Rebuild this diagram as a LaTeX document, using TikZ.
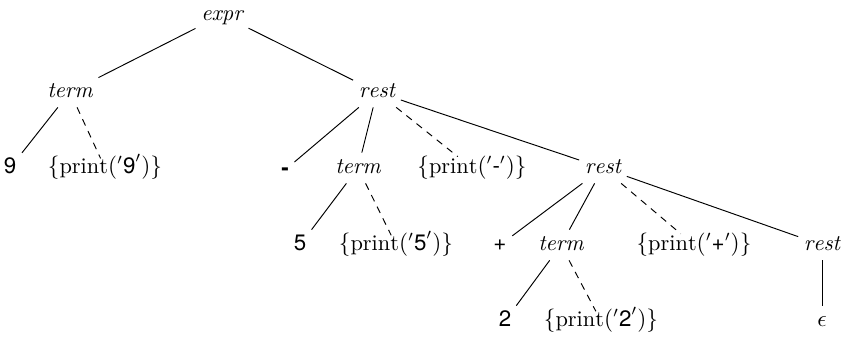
\documentclass[tikz,border=0pt]{standalone}
\usepackage{fontspec}
\newfontfamily\hv{TeX Gyre Heros}
\newcommand{\prnode}[1]{$\{\mathrm{print}('\mbox{\hv #1}')\}$}
\tikzset{
  tn/.style={inner sep=2.5pt, text height=1.6ex, text depth=0.5ex, font=\fontsize{10.5}{12}\selectfont},
  edge/.style={line width=0.45pt},
  act/.style={line width=0.45pt, dash pattern=on 3.3pt off 2.8pt, shorten >=-3pt},
}
\begin{document}
\begin{tikzpicture}[x=0.47pt,y=-0.47pt]
\useasboundingbox (0,0) rectangle (846,338);
\node[tn] (expr) at (222,15) {$\mathit{expr}$};
\node[tn] (t1) at (70,92) {$\mathit{term}$};
\node[tn] (r1) at (377,92) {$\mathit{rest}$};
\node[tn] (n9) at (10,168) {\hv 9};
\node[tn] (p9) at (105,168) {\prnode{9}};
\node[tn] (mi) at (285,170) {\hv\bfseries -};
\node[tn] (t2) at (358,168) {$\mathit{term}$};
\node[tn] (pm) at (472,168) {\prnode{-}};
\node[tn] (r2) at (603,168) {$\mathit{rest}$};
\node[tn] (n5) at (300,245) {\hv 5};
\node[tn] (p5) at (396,245) {\prnode{5}};
\node[tn] (pl) at (500,245) {\hv +};
\node[tn] (t3) at (561,245) {$\mathit{term}$};
\node[tn] (pp) at (694,245) {\prnode{+}};
\node[tn] (r3) at (822,245) {$\mathit{rest}$};
\node[tn] (n2) at (505,321) {\hv 2};
\node[tn] (p2) at (601,321) {\prnode{2}};
\node[tn] (eps) at (822,321) {$\epsilon$};
\draw[edge] (expr) -- (t1);
\draw[edge] (expr) -- (r1);
\draw[edge] (t1) -- (n9);
\draw[act] (t1) -- (p9);
\draw[edge] (r1) -- (mi);
\draw[edge] (r1) -- (t2);
\draw[act] (r1) -- (pm);
\draw[edge] (r1) -- (r2);
\draw[edge] (t2) -- (n5);
\draw[act] (t2) -- (p5);
\draw[edge] (r2) -- (pl);
\draw[edge] (r2) -- (t3);
\draw[act] (r2) -- (pp);
\draw[edge] (r2) -- (r3);
\draw[edge] (t3) -- (n2);
\draw[act] (t3) -- (p2);
\draw[edge] (r3) -- (eps);
\end{tikzpicture}
\end{document}
